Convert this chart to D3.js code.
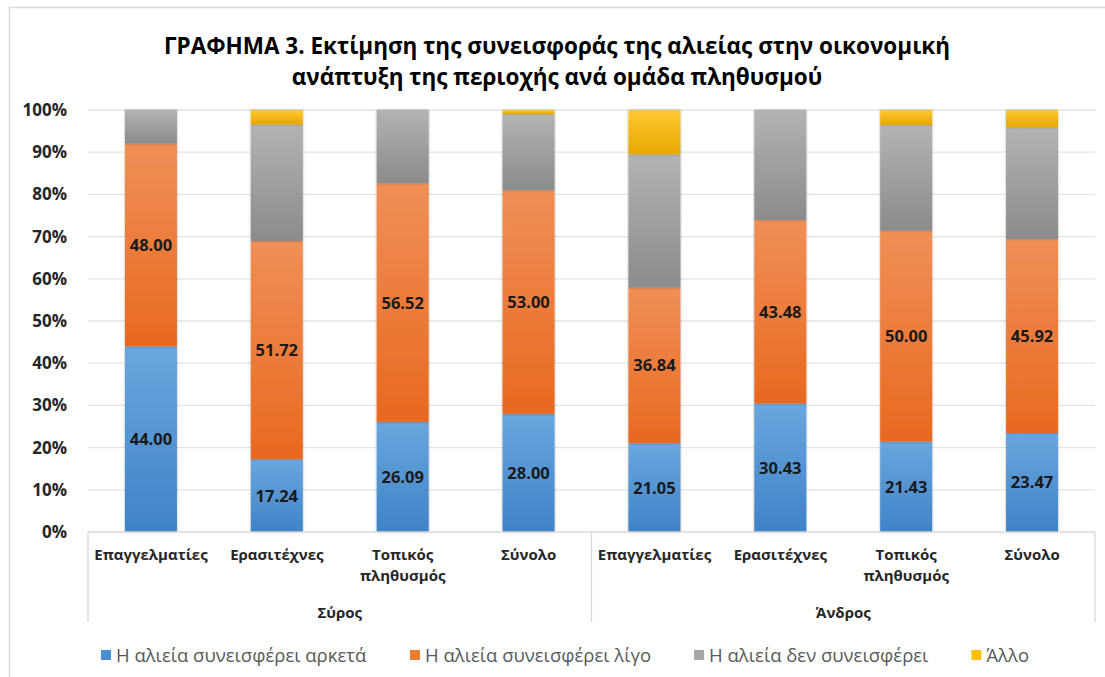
<!DOCTYPE html>
<html lang="el">
<head>
<meta charset="utf-8">
<script src="https://cdn.jsdelivr.net/npm/d3@7"></script>
<style>
  html, body { margin: 0; padding: 0; background: #fff; }
  svg { display: block; font-family: "Open Sans", "Noto Sans", "DejaVu Sans", sans-serif; }
</style>
</head>
<body>
<svg id="chart" width="1105" height="677"></svg>
<script>
// Groups and categories along the x axis
const groups = ["Σύρος", "Άνδρος"];
const categories = ["Επαγγελματίες", "Ερασιτέχνες", "Τοπικός πληθυσμός", "Σύνολο"];

// Series (percent of respondents)
const seriesNames = [
  "Η αλιεία συνεισφέρει αρκετά",
  "Η αλιεία συνεισφέρει λίγο",
  "Η αλιεία δεν συνεισφέρει",
  "Άλλο"
];
const arketa = [44.00, 17.24, 26.09, 28.00, 21.05, 30.43, 21.43, 23.47];
const ligo   = [48.00, 51.72, 56.52, 53.00, 36.84, 43.48, 50.00, 45.92];
const den    = [8.00, 27.59, 17.39, 18.00, 31.58, 26.09, 25.00, 26.53];
const allo   = [0.00, 3.45, 0.00, 1.00, 10.53, 0.00, 3.57, 4.08];

const yTicks = [0, 10, 20, 30, 40, 50, 60, 70, 80, 90, 100];
const titleLines = [
  "ΓΡΑΦΗΜΑ 3. Εκτίμηση της συνεισφοράς της αλιείας στην οικονομική",
  "ανάπτυξη της περιοχής ανά ομάδα πληθυσμού"
];

// Series styling: top/bottom gradient stops and legend swatch colour
const palette = [
  { top: "#6aa6de", bottom: "#3f83c7", swatch: "#4a8fd4" },
  { top: "#f08f57", bottom: "#e8691f", swatch: "#ed7d31" },
  { top: "#b3b3b3", bottom: "#8b8b8b", swatch: "#a5a5a5" },
  { top: "#ffc934", bottom: "#e6a700", swatch: "#ffc000" }
];
const labelled = [true, true, false, false];

// Build the table: one row per bar
const rows = [];
groups.forEach((g, gi) => {
  categories.forEach((c, ci) => {
    const i = gi * categories.length + ci;
    rows.push({ key: g + "|" + c, group: g, cat: c,
      s0: arketa[i], s1: ligo[i], s2: den[i], s3: allo[i] });
  });
});
const keys = ["s0", "s1", "s2", "s3"];

const svg = d3.select("#chart");
const plot = { left: 88, right: 1095, top: 110, bottom: 532 };

// Outer chart frame
svg.append("rect")
  .attr("x", 9.5).attr("y", 7.5).attr("width", 1110).attr("height", 700)
  .attr("fill", "#fff").attr("stroke", "#d9d9d9").attr("stroke-width", 1.5);

const defs = svg.append("defs");
palette.forEach((p, i) => {
  const lg = defs.append("linearGradient").attr("id", "grad" + i)
    .attr("x1", 0).attr("y1", 0).attr("x2", 0).attr("y2", 1);
  lg.append("stop").attr("offset", "0%").attr("stop-color", p.top);
  lg.append("stop").attr("offset", "100%").attr("stop-color", p.bottom);
});
const shadow = defs.append("filter").attr("id", "shadow")
  .attr("x", "-20%").attr("y", "-5%").attr("width", "140%").attr("height", "110%");
shadow.append("feDropShadow").attr("dx", 0).attr("dy", 0).attr("stdDeviation", 1.2)
  .attr("flood-color", "#000").attr("flood-opacity", 0.35);

const x = d3.scaleBand().domain(rows.map(d => d.key))
  .range([plot.left, plot.right]).paddingInner(0.587).paddingOuter(0.2935);
const y = d3.scaleLinear().domain([0, 100]).range([plot.bottom, plot.top]);

// Horizontal gridlines
svg.append("g").selectAll("line").data(yTicks.filter(t => t > 0)).join("line")
  .attr("x1", plot.left).attr("x2", plot.right)
  .attr("y1", d => y(d)).attr("y2", d => y(d))
  .attr("stroke", "#e3e3e3").attr("stroke-width", 1.3);

// Y axis labels
const yAxis = d3.axisLeft(y).tickValues(yTicks).tickFormat(d => d + "%").tickSize(0).tickPadding(21);
const yg = svg.append("g").attr("transform", `translate(${plot.left},0)`).call(yAxis);
yg.select(".domain").remove();
yg.selectAll("text").attr("font-size", 17).attr("font-weight", 700).attr("fill", "#262626")
  .attr("font-family", "'Open Sans', sans-serif");

// Stacked bars
const stack = d3.stack().keys(keys);
const stacked = stack(rows);
const layers = svg.append("g").selectAll("g").data(stacked).join("g")
  .attr("fill", (d, i) => `url(#grad${i})`);
layers.selectAll("rect").data(d => d.filter(s => s[1] - s[0] > 0)).join("rect")
  .attr("x", d => x(d.data.key))
  .attr("width", x.bandwidth())
  .attr("y", d => y(d[1]))
  .attr("height", d => y(d[0]) - y(d[1]))
  .attr("filter", "url(#shadow)");

// Value labels for the first two series
stacked.forEach((layer, i) => {
  if (!labelled[i]) return;
  svg.append("g").selectAll("text").data(layer).join("text")
    .attr("x", d => x(d.data.key) + x.bandwidth() / 2)
    .attr("y", d => (y(d[0]) + y(d[1])) / 2)
    .attr("dy", "0.36em")
    .attr("text-anchor", "middle")
    .attr("font-size", 16.5).attr("font-weight", 700).attr("fill", "#1a1a1a")
    .text(d => (d[1] - d[0]).toFixed(2));
});

// Category axis: baseline and group dividers
const axisG = svg.append("g").attr("stroke", "#d9d9d9").attr("stroke-width", 1.3);
axisG.append("line").attr("x1", plot.left).attr("x2", plot.right)
  .attr("y1", plot.bottom).attr("y2", plot.bottom);
const groupEdges = [plot.left, (plot.left + plot.right) / 2, plot.right];
axisG.selectAll("line.div").data(groupEdges).join("line").attr("class", "div")
  .attr("x1", d => d).attr("x2", d => d)
  .attr("y1", plot.bottom).attr("y2", 622);

// Category labels (wrapped onto two lines where needed)
const catLabels = svg.append("g").selectAll("text").data(rows).join("text")
  .attr("x", d => x(d.key) + x.bandwidth() / 2)
  .attr("y", 560)
  .attr("text-anchor", "middle")
  .attr("font-size", 15).attr("font-weight", 700).attr("fill", "#262626");
catLabels.each(function(d) {
  const words = d.cat.split(" ");
  const t = d3.select(this);
  words.forEach((w, i) => {
    t.append("tspan").attr("x", x(d.key) + x.bandwidth() / 2)
      .attr("dy", i === 0 ? 0 : "1.4em").text(w);
  });
});

// Group labels
svg.append("g").selectAll("text").data(groups).join("text")
  .attr("x", (d, i) => (groupEdges[i] + groupEdges[i + 1]) / 2)
  .attr("y", 618)
  .attr("text-anchor", "middle")
  .attr("font-size", 15).attr("font-weight", 700).attr("fill", "#262626")
  .text(d => d);

// Title
svg.append("g").selectAll("text").data(titleLines).join("text")
  .attr("x", 557).attr("y", (d, i) => 54 + i * 31)
  .attr("text-anchor", "middle")
  .attr("font-size", 22.5).attr("font-weight", 700).attr("fill", "#000")
  .text(d => d);

// Legend
const legend = svg.append("g");
const items = legend.selectAll("g").data(seriesNames).join("g");
items.append("rect").attr("width", 10).attr("height", 10).attr("y", -12)
  .attr("fill", (d, i) => palette[i].swatch);
items.append("text").attr("x", 15).attr("y", 0)
  .attr("font-size", 18.5).attr("fill", "#595959").text(d => d);
const gap = 43;
const widths = [];
items.each(function() { widths.push(this.getBBox().width); });
const total = d3.sum(widths) + gap * (widths.length - 1);
const start = 565 - total / 2;
items.attr("transform", (d, i) => {
  const px = start + d3.sum(widths.slice(0, i)) + gap * i;
  return `translate(${px},662)`;
});
</script>
</body>
</html>
